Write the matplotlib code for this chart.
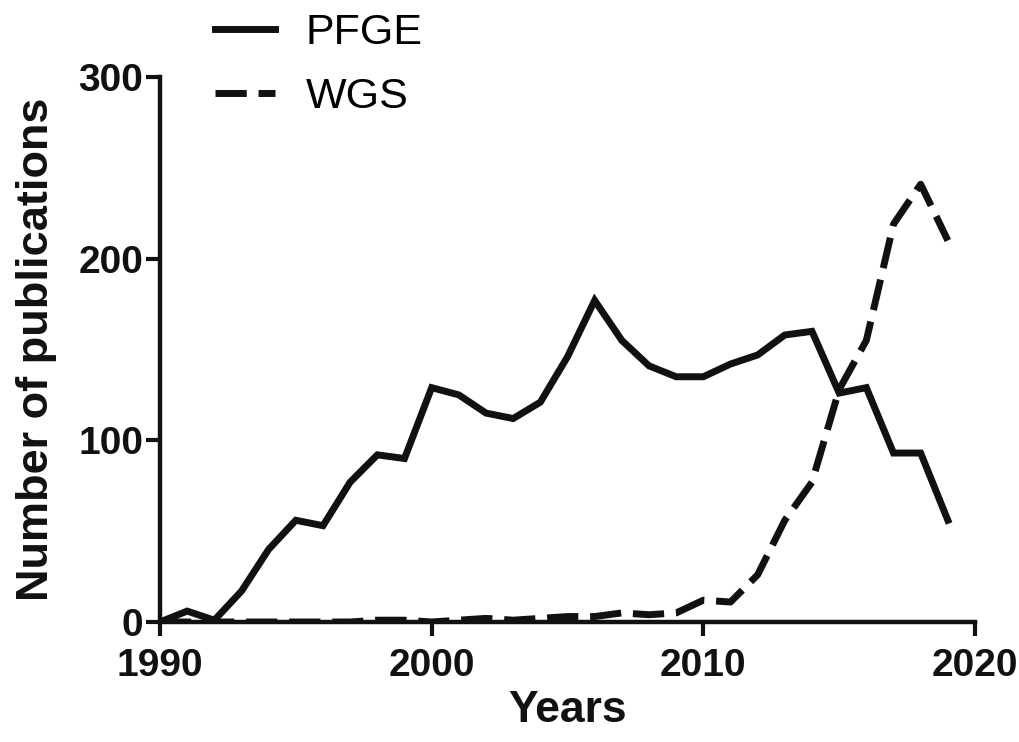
import matplotlib
matplotlib.use("Agg")
import matplotlib.pyplot as plt
from matplotlib.ticker import FixedLocator

years = list(range(1990, 2020))
pfge = [0, 6, 1, 17, 40, 56, 53, 77, 92, 90, 129, 125, 115, 112, 121, 146, 177,
        155, 141, 135, 135, 142, 147, 158, 160, 126, 129, 93, 93, 56]
wgs = [0, 0, 0, 0, 0, 0, 0, 0, 1, 1, 0, 1, 2, 1, 2, 3, 3,
       5, 4, 5, 12, 11, 26, 56, 77, 128, 155, 219, 241, 210]
xticks = [1990, 2000, 2010, 2020]
yticks = [0, 100, 200, 300]

plt.rcParams['font.family'] = ['Liberation Sans', 'DejaVu Sans']

fig = plt.figure(figsize=(10.2, 7.42), dpi=100)
ax = fig.add_axes([160/1020, 1-622/742, (975-160)/1020, (622-77)/742])

lw = 5.0
ax.plot(years, pfge, color='#111111', lw=lw, solid_joinstyle='miter', label='PFGE')
ax.plot(years, wgs, color='#111111', lw=lw, linestyle=(0, (4.5, 1.7)),
        dash_capstyle='butt', label='WGS')

ax.set_xlim(1990, 2020)
ax.set_ylim(0, 300)
ax.xaxis.set_major_locator(FixedLocator(xticks))
ax.yaxis.set_major_locator(FixedLocator(yticks))
ax.set_xticklabels([str(t) for t in xticks])
ax.set_yticklabels([str(t) for t in yticks])

for s in ['top', 'right']:
    ax.spines[s].set_visible(False)
for s in ['left', 'bottom']:
    ax.spines[s].set_linewidth(3.2)
    ax.spines[s].set_color('#111111')
ax.tick_params(axis='both', direction='out', length=10, width=3.0, color='#111111',
               labelsize=28, labelcolor='#111111')
ax.tick_params(axis='x', pad=9)
ax.tick_params(axis='y', pad=2)
for lab in ax.get_xticklabels() + ax.get_yticklabels():
    lab.set_fontweight('bold')

ax.set_xlabel('Years', fontsize=32, fontweight='bold', color='#111111', labelpad=4)
ax.set_ylabel('Number of publications', fontsize=32.5, fontweight='bold', color='#111111', labelpad=15)

fig.legend(loc='center left', bbox_to_anchor=(215/1020, 1-65/742), frameon=False,
           fontsize=31, handlelength=1.4, handletextpad=0.7, labelspacing=0.55,
           borderpad=0, borderaxespad=0)

fig.savefig('out.png', dpi=100, facecolor='white')
